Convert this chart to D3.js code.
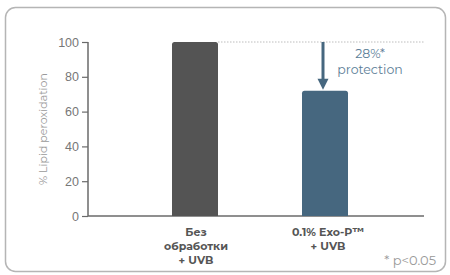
<!DOCTYPE html>
<html>
<head>
<meta charset="utf-8">
<script src="https://cdn.jsdelivr.net/npm/d3@7"></script>
<style>
  body { margin: 0; background: #fff; }
  svg { font-family: "Montserrat", "Open Sans", "DejaVu Sans", sans-serif; }
</style>
</head>
<body>
<div id="chart"></div>
<script>
var categories = [["Без", "обработки", "+ UVB"], ["0.1% Exo-P\u1d40\u1d39", "+ UVB"]];
var values = [100, 72];
var barColors = ["#545454", "#46677f"];
var yTicks = [0, 20, 40, 60, 80, 100];
var annot = ["28%*", "protection"];

var width = 450, height = 275;
var svg = d3.select("#chart").append("svg")
  .attr("width", width).attr("height", height);

// outer frame
svg.append("rect")
  .attr("x", 5.5).attr("y", 7.5)
  .attr("width", 440).attr("height", 264)
  .attr("rx", 10)
  .attr("fill", "none")
  .attr("stroke", "#b5b5b5")
  .attr("stroke-width", 1.5);

var x0 = 88, x1 = 424;
var y = d3.scaleLinear().domain([0, 100]).range([216, 42]);
var barX = [172, 302], barW = 46;

// y axis
var yAxis = svg.append("g")
  .attr("transform", "translate(" + x0 + ",0)")
  .call(d3.axisLeft(y).tickValues(yTicks).tickSize(6).tickPadding(3));
yAxis.select(".domain").attr("stroke", "#6a6a6a").attr("stroke-width", 1.5).attr("d", "M0," + y(100) + "V" + y(0));
yAxis.selectAll(".tick line").attr("stroke", "#6a6a6a").attr("stroke-width", 1.2);
yAxis.selectAll(".tick text").attr("fill", "#777").style("font-size", "12.5px");

// x axis line
svg.append("line")
  .attr("x1", x0).attr("x2", x1)
  .attr("y1", y(0)).attr("y2", y(0))
  .attr("stroke", "#6a6a6a").attr("stroke-width", 1.5);

// y title
svg.append("text")
  .attr("transform", "translate(47," + ((y(0) + y(100)) / 2) + ") rotate(-90)")
  .attr("text-anchor", "middle")
  .attr("fill", "#9a9a9a")
  .style("font-size", "11px")
  .text("% Lipid peroxidation");

// dotted reference line
svg.append("line")
  .attr("x1", barX[0] + barW).attr("x2", x1)
  .attr("y1", y(100)).attr("y2", y(100))
  .attr("stroke", "#bdbdbd").attr("stroke-width", 1)
  .attr("stroke-dasharray", "1.5,1.5");

// bars with rounded tops
svg.selectAll("path.bar")
  .data(values)
  .enter()
  .append("path")
  .attr("class", "bar")
  .attr("fill", function(d, i) { return barColors[i]; })
  .attr("d", function(d, i) {
    var l = barX[i], r = l + barW, t = y(d), b = y(0), c = 2.5;
    return "M" + l + "," + b + "V" + (t + c) + "Q" + l + "," + t + " " + (l + c) + "," + t +
      "H" + (r - c) + "Q" + r + "," + t + " " + r + "," + (t + c) + "V" + b + "Z";
  });

// arrow
var ax = 323;
svg.append("line")
  .attr("x1", ax).attr("x2", ax)
  .attr("y1", y(100)).attr("y2", y(values[1]) - 10)
  .attr("stroke", barColors[1]).attr("stroke-width", 3);
svg.append("path")
  .attr("fill", barColors[1])
  .attr("d", "M" + (ax - 5.5) + "," + (y(values[1]) - 12) + "L" + (ax + 5.5) + "," + (y(values[1]) - 12) +
    "L" + ax + "," + (y(values[1]) - 1) + "Z");

svg.selectAll("text.annot")
  .data(annot)
  .enter()
  .append("text")
  .attr("class", "annot")
  .attr("x", 370)
  .attr("y", function(d, i) { return 58 + i * 16; })
  .attr("text-anchor", "middle")
  .attr("fill", "#5b7d96")
  .style("font-size", "12.5px")
  .text(function(d) { return d; });

// category labels
categories.forEach(function(lines, i) {
  var cx = barX[i] + barW / 2 + 1 + i * 2;
  svg.append("text")
    .attr("x", cx)
    .attr("y", 236)
    .attr("text-anchor", "middle")
    .attr("fill", "#555")
    .style("font-size", "11px")
    .style("font-weight", "bold")
    .selectAll("tspan")
    .data(lines)
    .enter()
    .append("tspan")
    .attr("x", cx)
    .attr("dy", function(d, j) { return j === 0 ? 0 : 14; })
    .text(function(d) { return d; });
});

// footnote
svg.append("text")
  .attr("x", 436).attr("y", 265)
  .attr("text-anchor", "end")
  .attr("fill", "#999")
  .style("font-size", "13px")
  .text("* p<0.05");
</script>
</body>
</html>
